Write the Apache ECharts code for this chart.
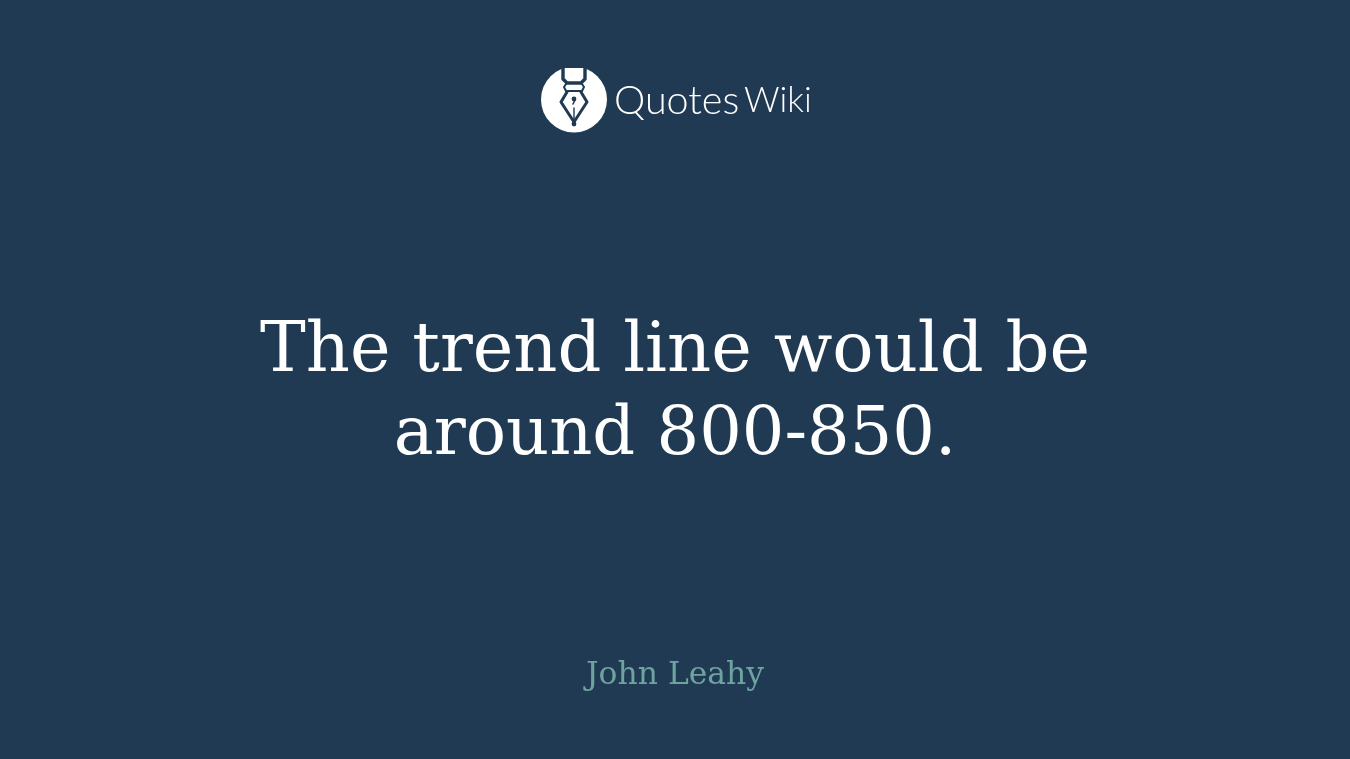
<!DOCTYPE html>
<html><head><meta charset="utf-8">
<style>html,body{margin:0;padding:0;background:#1f3a52}#c{width:1350px;height:759px}</style>
<script src="https://cdn.jsdelivr.net/npm/echarts@6/dist/echarts.min.js"></script>
</head><body><div id="c"></div>
<script>
const quoteLines = ["The trend line would be", "around 800-850."];
const author = "John Leahy";
const brandLeft = "Quotes";
const brandRight = "Wiki";
const chart = echarts.init(document.getElementById('c'), null, {renderer:'canvas'});
const serif = '"DejaVu Serif","Liberation Serif",serif';
const bg='#1f3a52';
const ln=(pts,w)=>({type:'polyline',shape:{points:pts},style:{stroke:bg,fill:null,lineWidth:w||3,lineJoin:'round',lineCap:'round'}});
chart.setOption({
  backgroundColor:bg,
  animation:false,
  graphic:[
    {type:'circle',shape:{cx:574,cy:99.5,r:33},style:{fill:'#fff'}},
    {type:'rect',shape:{x:561,y:64,width:26,height:4},style:{fill:bg}},
    ln([[563,66],[563,79],[567,83],[581,83],[585,79],[585,66]],3.4),
    ln([[566,84],[564,87],[566,91],[582,91],[584,87],[582,84]],2),
    ln([[567,92],[561,102],[574,122],[587,102],[581,92]],3),
    {type:'circle',shape:{cx:574,cy:99,r:2.4},style:{fill:bg}},
    ln([[575,100],[573,104]],1.6),
    ln([[574,108],[574,122]],1.4),
    {type:'circle',shape:{cx:574,cy:124,r:2.4},style:{fill:bg}},
    {type:'text',style:{x:614,y:101,text:brandLeft,font:'300 39.5px Lato',fill:'#fff',textVerticalAlign:'middle'}},
    {type:'text',style:{x:744,y:101,text:brandRight,font:'300 35px Lato',fill:'#fff',textVerticalAlign:'middle'}},
    {type:'text',style:{x:675,y:353,text:quoteLines[0],font:'68.6px '+serif,fill:'#fff',textAlign:'center',textVerticalAlign:'middle'}},
    {type:'text',style:{x:675,y:437,text:quoteLines[1],font:'67px '+serif,fill:'#fff',textAlign:'center',textVerticalAlign:'middle'}},
    {type:'text',style:{x:675,y:676,text:author,font:'31.4px '+serif,fill:'#6ea3a0',textAlign:'center',textVerticalAlign:'middle'}}
  ]
});
</script></body></html>
